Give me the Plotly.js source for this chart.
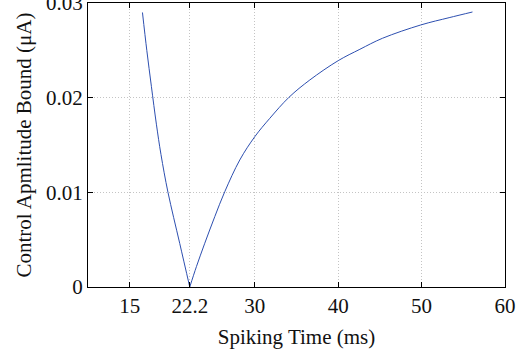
<!DOCTYPE html>
<html>
<head>
<meta charset="utf-8">
<script src="https://cdn.plot.ly/plotly-3.0.1.min.js"></script>
<style>html,body{margin:0;padding:0;background:#fff;}#chart{width:529px;height:358px;}</style>
</head>
<body>
<div id="chart"></div>
<script>
// Falling branch: spiking time (ms) and control amplitude bound (uA)
const leftTime = [16.53, 17.05, 17.6, 18.2, 18.75, 19.59, 21.0, 22.2];
const leftBound = [0.0290, 0.0250, 0.0212, 0.0172, 0.0140, 0.0100, 0.0046, 0.0];
// Rising branch
const rightTime = [22.2, 23.0, 24.0, 25.2, 26.4, 28.2, 30.0, 31.8, 34.1, 36.6, 40.0, 42.6, 45.3, 49.9, 53.3, 56.1];
const rightBound = [0.0, 0.00215, 0.00462, 0.00743, 0.01007, 0.01342, 0.01588, 0.01782, 0.02004, 0.02187, 0.02391, 0.02511, 0.02627, 0.02768, 0.02845, 0.02905];
const xTickVals = [15, 22.2, 30, 40, 50, 60];
const xTickText = ["15", "22.2", "30", "40", "50", "60"];
const yTickVals = [0, 0.01, 0.02, 0.03];
const yTickText = ["0", "0.01", "0.02", "0.03"];

const fontFam = "Liberation Serif";
const fontSize = 21;
const lineStyle = {color: "#2d4fb0", width: 1, shape: "spline", smoothing: 1};
const traces = [
  {x: leftTime, y: leftBound, type: "scatter", mode: "lines", line: lineStyle, hoverinfo: "none", showlegend: false},
  {x: rightTime, y: rightBound, type: "scatter", mode: "lines", line: lineStyle, hoverinfo: "none", showlegend: false}
];
const axisCommon = {
  showline: true, linecolor: "#000", linewidth: 1, mirror: "ticks",
  ticks: "inside", ticklen: 5, tickcolor: "#000", tickwidth: 1,
  showgrid: true, gridcolor: "#c4c4c4", gridwidth: 1, griddash: "1px,2px",
  zeroline: false, ticklabeloverflow: "allow",
  tickfont: {family: fontFam, size: fontSize, color: "#111"}
};
const layout = {
  width: 529, height: 358,
  margin: {l: 88, r: 24, t: 3, b: 71},
  paper_bgcolor: "#fff", plot_bgcolor: "#fff",
  font: {family: fontFam, size: fontSize, color: "#111"},
  xaxis: Object.assign({}, axisCommon, {
    range: [10, 60], tickmode: "array", tickvals: xTickVals, ticktext: xTickText,
    title: {text: "Spiking Time (ms)", font: {family: fontFam, size: fontSize, color: "#111"}, standoff: 12}
  }),
  yaxis: Object.assign({}, axisCommon, {
    range: [0, 0.03], tickmode: "array", tickvals: yTickVals, ticktext: yTickText,
    title: {text: "Control Apmlitude Bound (μA)", font: {family: fontFam, size: fontSize, color: "#111"}, standoff: 8}
  })
};
Plotly.newPlot("chart", traces, layout, {staticPlot: true, displayModeBar: false});
</script>
</body>
</html>
